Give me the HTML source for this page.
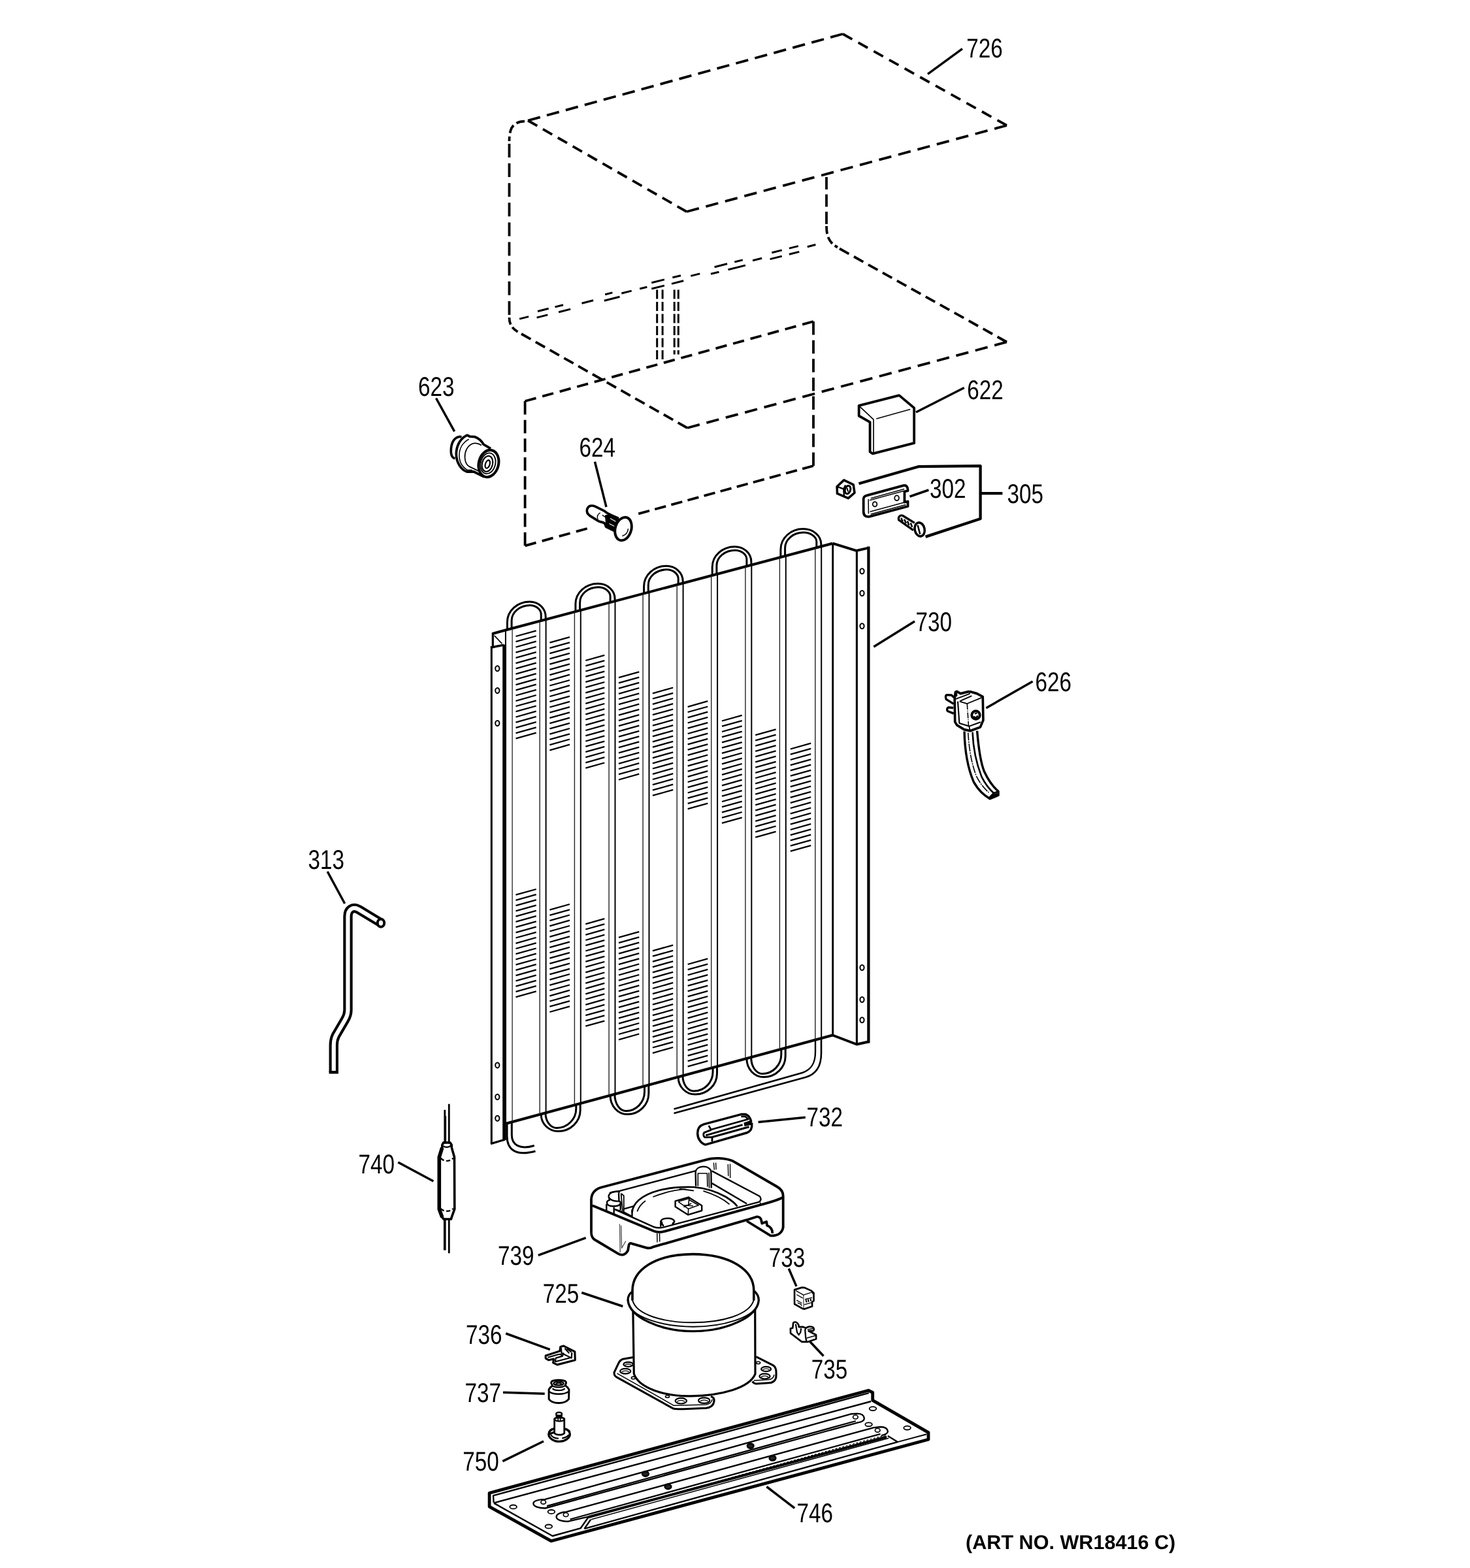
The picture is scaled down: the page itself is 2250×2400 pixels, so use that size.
<!DOCTYPE html>
<html lang="en"><head><meta charset="utf-8"><title>Parts diagram WR18416</title>
<style>
html,body{margin:0;padding:0;background:#fff;-webkit-font-smoothing:antialiased}
svg{display:block;will-change:transform}
svg *{stroke-linecap:butt;stroke-linejoin:round}
.g{stroke:#000;fill:none}
.lb{font-family:"Liberation Sans",sans-serif;fill:#000;stroke:none;text-rendering:geometricPrecision}
.bd{font-family:"Liberation Sans",sans-serif;font-weight:bold;fill:#000;stroke:none;text-rendering:geometricPrecision}
</style></head><body>
<svg xmlns="http://www.w3.org/2000/svg" width="2250" height="2400" viewBox="0 0 2250 2400">
<rect x="0" y="0" width="2250" height="2400" fill="#fff" stroke="none"/>
<g class="g">
<line x1="808.0" y1="184.5" x2="1290.0" y2="52.0" stroke-width="3.8" stroke-dasharray="19.50 10.52"/>
<line x1="1290.0" y1="52.0" x2="1541.0" y2="192.0" stroke-width="3.8" stroke-dasharray="16.50 10.59"/>
<line x1="1541.0" y1="192.0" x2="1051.0" y2="324.0" stroke-width="3.8" stroke-dasharray="19.50 11.00"/>
<line x1="808.0" y1="184.5" x2="1051.0" y2="324.0" stroke-width="3.8" stroke-dasharray="16.50 9.87"/>
<path d="M803,185.6 C792,185.6 784,191 781.5,200 C780,205 779.5,210 779.5,216" stroke-width="3.8" fill="none" stroke-dasharray="13 5.5"/>
<line x1="779.5" y1="220.0" x2="779.5" y2="482.0" stroke-width="3.8" stroke-dasharray="21.00 9.12"/>
<path d="M779.5,486 C779.5,497 784,503.5 796,510" stroke-width="3.8" fill="none" stroke-dasharray="11 5"/>
<line x1="798.0" y1="511.0" x2="1052.0" y2="655.0" stroke-width="3.8" stroke-dasharray="16.50 8.54"/>
<line x1="1052.0" y1="655.0" x2="1541.0" y2="523.5" stroke-width="3.8" stroke-dasharray="19.50 10.93"/>
<line x1="1265.0" y1="271.0" x2="1265.0" y2="343.0" stroke-width="3.8" stroke-dasharray="19.00 7.50"/>
<path d="M1265,346 C1265,363 1270,372 1282,378.5" stroke-width="3.8" fill="none" stroke-dasharray="12 5"/>
<line x1="1285.0" y1="380.5" x2="1541.0" y2="523.5" stroke-width="3.8" stroke-dasharray="16.50 8.66"/>
<line x1="795.1" y1="488.1" x2="809.1" y2="484.6" stroke-width="3.0" />
<line x1="890.5" y1="464.2" x2="908.1" y2="459.8" stroke-width="3.0" />
<line x1="951.3" y1="449.0" x2="966.7" y2="445.1" stroke-width="3.0" />
<line x1="979.2" y1="442.0" x2="990.4" y2="439.2" stroke-width="3.0" />
<line x1="1057.3" y1="422.4" x2="1071.3" y2="418.9" stroke-width="3.0" />
<line x1="1152.1" y1="398.7" x2="1166.1" y2="395.2" stroke-width="3.0" />
<line x1="1235.8" y1="377.7" x2="1248.4" y2="374.5" stroke-width="3.0" />
<line x1="823.0" y1="476.5" x2="839.7" y2="472.3" stroke-width="3.0" />
<line x1="821.6" y1="486.1" x2="838.3" y2="481.9" stroke-width="3.0" />
<line x1="849.5" y1="469.9" x2="862.0" y2="466.7" stroke-width="3.0" />
<line x1="855.1" y1="477.7" x2="873.2" y2="473.1" stroke-width="3.0" />
<line x1="926.2" y1="450.7" x2="937.4" y2="447.9" stroke-width="3.0" />
<line x1="924.8" y1="460.2" x2="948.5" y2="454.3" stroke-width="3.0" />
<line x1="997.3" y1="432.8" x2="1016.9" y2="427.9" stroke-width="3.0" />
<line x1="997.3" y1="442.0" x2="1016.9" y2="437.1" stroke-width="3.0" />
<line x1="1029.4" y1="424.8" x2="1042.0" y2="421.7" stroke-width="3.0" />
<line x1="1028.0" y1="434.4" x2="1046.2" y2="429.8" stroke-width="3.0" />
<line x1="1093.6" y1="408.7" x2="1113.1" y2="403.8" stroke-width="3.0" />
<line x1="1088.0" y1="419.3" x2="1100.5" y2="416.2" stroke-width="3.0" />
<line x1="1124.3" y1="401.0" x2="1136.8" y2="397.9" stroke-width="3.0" />
<line x1="1114.5" y1="412.7" x2="1141.0" y2="406.1" stroke-width="3.0" />
<line x1="1181.4" y1="386.7" x2="1196.8" y2="382.9" stroke-width="3.0" />
<line x1="1178.6" y1="396.6" x2="1196.8" y2="392.1" stroke-width="3.0" />
<line x1="1207.9" y1="380.1" x2="1221.9" y2="376.6" stroke-width="3.0" />
<line x1="1207.9" y1="389.3" x2="1223.3" y2="385.4" stroke-width="3.0" />
<line x1="1005.7" y1="443.5" x2="1005.7" y2="553.0" stroke-width="3.0" stroke-dasharray="14 4.5"/>
<line x1="1014.1" y1="443.5" x2="1014.1" y2="553.0" stroke-width="3.0" stroke-dasharray="14 4.5"/>
<line x1="1032.2" y1="443.5" x2="1032.2" y2="542.5" stroke-width="3.0" stroke-dasharray="14 4.5"/>
<line x1="1038.3" y1="443.5" x2="1038.3" y2="542.5" stroke-width="3.0" stroke-dasharray="14 4.5"/>
<line x1="803.6" y1="835.3" x2="803.6" y2="614.0" stroke-width="3.8" stroke-dasharray="20.50 8.19"/>
<line x1="803.6" y1="614.0" x2="1245.0" y2="492.0" stroke-width="3.8" stroke-dasharray="17.50 10.03"/>
<line x1="1245.0" y1="492.0" x2="1245.0" y2="713.0" stroke-width="3.8" stroke-dasharray="20.50 8.14"/>
<line x1="1245.0" y1="713.0" x2="977.2" y2="786.4" stroke-width="3.8" stroke-dasharray="17.50 8.52"/>
<line x1="803.6" y1="835.3" x2="898.7" y2="809.0" stroke-width="3.8" stroke-dasharray="17.50 9.56"/>
<line x1="753.8" y1="969.9" x2="1274.3" y2="831.7" stroke-width="4.1" />
<line x1="775.5" y1="1719.5" x2="1274.5" y2="1584.5" stroke-width="4.1" />
<path d="M1274.4,831.7 L1310.8,842.9 L1329.4,838.6" stroke-width="4.0" fill="none" stroke-linejoin="miter"/>
<path d="M1274.5,1584.5 L1311.2,1598.5 L1329.4,1594.5" stroke-width="4.0" fill="none" stroke-linejoin="miter"/>
<line x1="1274.7" y1="831.7" x2="1274.7" y2="1584.5" stroke-width="2.9" />
<line x1="1311.4" y1="842.0" x2="1311.4" y2="1598.0" stroke-width="3.1" />
<line x1="1329.4" y1="836.6" x2="1329.4" y2="1596.5" stroke-width="4.3" />
<ellipse cx="1319.5" cy="874.2" rx="3.1" ry="4.0" stroke-width="2.0" fill="none" />
<ellipse cx="1319.5" cy="908.0" rx="3.1" ry="4.0" stroke-width="2.0" fill="none" />
<ellipse cx="1319.5" cy="958.2" rx="3.1" ry="4.0" stroke-width="2.0" fill="none" />
<ellipse cx="1319.5" cy="1481.0" rx="3.1" ry="4.0" stroke-width="2.0" fill="none" />
<ellipse cx="1319.5" cy="1530.0" rx="3.1" ry="4.0" stroke-width="2.0" fill="none" />
<ellipse cx="1319.5" cy="1561.3" rx="3.1" ry="4.0" stroke-width="2.0" fill="none" />
<line x1="752.3" y1="989.5" x2="752.3" y2="1750.5" stroke-width="3.0" />
<line x1="772.0" y1="986.5" x2="772.0" y2="1745.0" stroke-width="5.6" />
<line x1="751.0" y1="1750.6" x2="773.0" y2="1744.2" stroke-width="3.2" />
<line x1="754.3" y1="968.3" x2="754.3" y2="991.0" stroke-width="3.2" />
<line x1="750.9" y1="991.3" x2="771.0" y2="987.1" stroke-width="3.5" />
<line x1="756.7" y1="972.9" x2="768.3" y2="985.1" stroke-width="1.7" />
<ellipse cx="761.3" cy="1023.2" rx="3.1" ry="4.0" stroke-width="2.0" fill="none" />
<ellipse cx="761.3" cy="1057.0" rx="3.1" ry="4.0" stroke-width="2.0" fill="none" />
<ellipse cx="761.3" cy="1107.0" rx="3.1" ry="4.0" stroke-width="2.0" fill="none" />
<ellipse cx="761.3" cy="1630.4" rx="3.1" ry="4.0" stroke-width="2.0" fill="none" />
<ellipse cx="761.3" cy="1679.0" rx="3.1" ry="4.0" stroke-width="2.0" fill="none" />
<ellipse cx="761.3" cy="1711.7" rx="3.1" ry="4.0" stroke-width="2.0" fill="none" />
<line x1="773.9" y1="964.6" x2="773.9" y2="1719.9" stroke-width="2.0" />
<line x1="784.1" y1="961.9" x2="784.1" y2="1717.2" stroke-width="1.3" stroke="#222"/>
<line x1="826.2" y1="950.7" x2="826.2" y2="1705.8" stroke-width="1.4" stroke="#222"/>
<line x1="835.6" y1="948.2" x2="835.6" y2="1703.2" stroke-width="2.0" />
<line x1="879.4" y1="936.6" x2="879.4" y2="1691.4" stroke-width="1.4" stroke="#222"/>
<line x1="888.8" y1="934.1" x2="888.8" y2="1688.9" stroke-width="2.0" />
<line x1="932.1" y1="922.6" x2="932.1" y2="1677.1" stroke-width="1.4" stroke="#222"/>
<line x1="941.5" y1="920.1" x2="941.5" y2="1674.6" stroke-width="2.0" />
<line x1="984.1" y1="908.8" x2="984.1" y2="1663.1" stroke-width="1.4" stroke="#222"/>
<line x1="993.5" y1="906.3" x2="993.5" y2="1660.5" stroke-width="2.0" />
<line x1="1036.2" y1="894.9" x2="1036.2" y2="1649.0" stroke-width="1.4" stroke="#222"/>
<line x1="1045.6" y1="892.4" x2="1045.6" y2="1646.4" stroke-width="2.0" />
<line x1="1088.7" y1="881.0" x2="1088.7" y2="1634.8" stroke-width="1.4" stroke="#222"/>
<line x1="1098.1" y1="878.5" x2="1098.1" y2="1632.2" stroke-width="2.0" />
<line x1="1140.9" y1="867.1" x2="1140.9" y2="1620.7" stroke-width="1.4" stroke="#222"/>
<line x1="1150.3" y1="864.6" x2="1150.3" y2="1618.1" stroke-width="2.0" />
<line x1="1193.4" y1="853.2" x2="1193.4" y2="1606.5" stroke-width="1.4" stroke="#222"/>
<line x1="1202.8" y1="850.7" x2="1202.8" y2="1603.9" stroke-width="2.0" />
<line x1="1247.8" y1="838.7" x2="1247.8" y2="1591.7" stroke-width="1.4" stroke="#222"/>
<line x1="1257.2" y1="836.2" x2="1257.2" y2="1589.2" stroke-width="2.0" />
<path d="M776.4,963.9 L776.4,952.2 C776.4,934.9 791.8,920.9 810.8,920.9 C824.3,920.9 835.2,931.2 835.2,944.0 L835.2,948.3" stroke-width="3.0" fill="none" />
<path d="M783.1,962.1 L783.1,950.0 C783.1,937.0 795.7,926.4 811.2,926.4 C820.6,926.4 828.2,932.8 828.2,940.6 L828.2,950.1" stroke-width="3.0" fill="none" />
<path d="M880.9,936.2 L880.9,924.6 C880.9,907.3 896.3,893.3 915.3,893.3 C929.5,893.3 941.1,903.6 941.1,916.4 L941.1,920.2" stroke-width="3.0" fill="none" />
<path d="M887.6,934.4 L887.6,922.4 C887.6,909.4 900.2,898.8 915.7,898.8 C925.9,898.8 934.1,905.2 934.1,913.0 L934.1,922.0" stroke-width="3.0" fill="none" />
<path d="M985.6,908.4 L985.6,897.6 C985.6,880.3 1001.0,866.3 1020.0,866.3 C1033.9,866.3 1045.2,876.6 1045.2,889.4 L1045.2,892.5" stroke-width="3.0" fill="none" />
<path d="M992.3,906.6 L992.3,895.4 C992.3,882.4 1004.9,871.8 1020.4,871.8 C1030.2,871.8 1038.2,878.2 1038.2,886.0 L1038.2,894.4" stroke-width="3.0" fill="none" />
<path d="M1090.2,880.6 L1090.2,868.0 C1090.2,850.7 1105.6,836.7 1124.6,836.7 C1138.6,836.7 1149.9,847.0 1149.9,859.8 L1149.9,864.7" stroke-width="3.0" fill="none" />
<path d="M1096.9,878.8 L1096.9,865.8 C1096.9,852.8 1109.5,842.2 1125.0,842.2 C1134.9,842.2 1142.9,848.6 1142.9,856.4 L1142.9,866.6" stroke-width="3.0" fill="none" />
<path d="M1194.9,852.8 L1194.9,840.9 C1194.9,823.6 1210.3,809.6 1229.3,809.6 C1244.5,809.6 1256.8,819.9 1256.8,832.7 L1256.8,836.4" stroke-width="3.0" fill="none" />
<path d="M1201.6,851.0 L1201.6,838.7 C1201.6,825.7 1214.2,815.1 1229.7,815.1 C1240.8,815.1 1249.8,821.5 1249.8,829.3 L1249.8,838.2" stroke-width="3.0" fill="none" />
<path d="M828.2,1705.2 L828.2,1705.7 C828.2,1720.0 839.9,1731.5 854.3,1731.5 C873.0,1731.5 888.2,1717.1 888.2,1699.3 L888.2,1689.0" stroke-width="3.0" fill="none" />
<path d="M835.0,1703.4 L835.0,1703.9 C835.0,1716.3 842.7,1726.4 852.2,1726.4 C868.5,1726.4 881.8,1713.2 881.8,1697.0 L881.8,1690.7" stroke-width="3.0" fill="none" />
<path d="M934.1,1676.6 L934.1,1677.1 C934.1,1692.8 945.8,1705.6 960.2,1705.6 C978.3,1705.6 992.9,1691.2 992.9,1673.4 L992.9,1660.7" stroke-width="3.0" fill="none" />
<path d="M940.9,1674.8 L940.9,1675.3 C940.9,1689.2 948.6,1700.5 958.1,1700.5 C973.8,1700.5 986.5,1687.3 986.5,1671.1 L986.5,1662.4" stroke-width="3.0" fill="none" />
<path d="M1038.2,1648.4 L1038.2,1648.9 C1038.2,1663.4 1049.9,1675.1 1064.3,1675.1 C1082.6,1675.1 1097.5,1660.7 1097.5,1642.9 L1097.5,1632.4" stroke-width="3.0" fill="none" />
<path d="M1045.0,1646.6 L1045.0,1647.1 C1045.0,1659.7 1052.7,1670.0 1062.2,1670.0 C1078.2,1670.0 1091.1,1656.8 1091.1,1640.6 L1091.1,1634.1" stroke-width="3.0" fill="none" />
<path d="M1142.9,1620.1 L1142.9,1620.6 C1142.9,1636.1 1154.6,1648.6 1169.0,1648.6 C1187.3,1648.6 1202.2,1634.2 1202.2,1616.4 L1202.2,1604.1" stroke-width="3.0" fill="none" />
<path d="M1149.7,1618.3 L1149.7,1618.8 C1149.7,1632.4 1157.4,1643.5 1166.9,1643.5 C1182.9,1643.5 1195.8,1630.3 1195.8,1614.1 L1195.8,1605.8" stroke-width="3.0" fill="none" />
<path d="M776,1718 L776,1739 C776,1760 790,1770 819.5,1762" stroke-width="3.0" fill="none" />
<path d="M783.3,1718 L783.3,1737 C783.3,1753 796,1760 817.8,1753.5" stroke-width="3.0" fill="none" />
<path d="M1257,1590 L1257,1612 C1257,1632 1250,1644 1233.5,1648.7 L1031.5,1704" stroke-width="2.6" fill="none" />
<path d="M1248,1592 L1248,1610 C1248,1626 1243,1637 1228,1642 L1031.5,1697.5" stroke-width="2.4" fill="none" />
<line x1="789.5" y1="974.0" x2="820.7" y2="965.3" stroke-width="2.3" />
<line x1="789.5" y1="982.2" x2="820.7" y2="973.5" stroke-width="2.3" />
<line x1="789.5" y1="990.5" x2="820.7" y2="981.7" stroke-width="2.3" />
<line x1="789.5" y1="998.7" x2="820.7" y2="990.0" stroke-width="2.3" />
<line x1="789.5" y1="1006.9" x2="820.7" y2="998.2" stroke-width="2.3" />
<line x1="789.5" y1="1015.1" x2="820.7" y2="1006.4" stroke-width="2.3" />
<line x1="789.5" y1="1023.4" x2="820.7" y2="1014.6" stroke-width="2.3" />
<line x1="789.5" y1="1031.6" x2="820.7" y2="1022.9" stroke-width="2.3" />
<line x1="789.5" y1="1039.8" x2="820.7" y2="1031.1" stroke-width="2.3" />
<line x1="789.5" y1="1048.1" x2="820.7" y2="1039.3" stroke-width="2.3" />
<line x1="789.5" y1="1056.3" x2="820.7" y2="1047.6" stroke-width="2.3" />
<line x1="789.5" y1="1064.5" x2="820.7" y2="1055.8" stroke-width="2.3" />
<line x1="789.5" y1="1072.8" x2="820.7" y2="1064.0" stroke-width="2.3" />
<line x1="789.5" y1="1081.0" x2="820.7" y2="1072.3" stroke-width="2.3" />
<line x1="789.5" y1="1089.2" x2="820.7" y2="1080.5" stroke-width="2.3" />
<line x1="789.5" y1="1097.5" x2="820.7" y2="1088.7" stroke-width="2.3" />
<line x1="789.5" y1="1105.7" x2="820.7" y2="1096.9" stroke-width="2.3" />
<line x1="789.5" y1="1113.9" x2="820.7" y2="1105.2" stroke-width="2.3" />
<line x1="789.5" y1="1122.1" x2="820.7" y2="1113.4" stroke-width="2.3" />
<line x1="789.5" y1="1130.4" x2="820.7" y2="1121.6" stroke-width="2.3" />
<line x1="841.4" y1="983.7" x2="872.0" y2="975.1" stroke-width="2.3" />
<line x1="841.4" y1="991.9" x2="872.0" y2="983.4" stroke-width="2.3" />
<line x1="841.4" y1="1000.2" x2="872.0" y2="991.6" stroke-width="2.3" />
<line x1="841.4" y1="1008.4" x2="872.0" y2="999.8" stroke-width="2.3" />
<line x1="841.4" y1="1016.6" x2="872.0" y2="1008.1" stroke-width="2.3" />
<line x1="841.4" y1="1024.9" x2="872.0" y2="1016.3" stroke-width="2.3" />
<line x1="841.4" y1="1033.1" x2="872.0" y2="1024.5" stroke-width="2.3" />
<line x1="841.4" y1="1041.3" x2="872.0" y2="1032.7" stroke-width="2.3" />
<line x1="841.4" y1="1049.5" x2="872.0" y2="1041.0" stroke-width="2.3" />
<line x1="841.4" y1="1057.8" x2="872.0" y2="1049.2" stroke-width="2.3" />
<line x1="841.4" y1="1066.0" x2="872.0" y2="1057.4" stroke-width="2.3" />
<line x1="841.4" y1="1074.2" x2="872.0" y2="1065.7" stroke-width="2.3" />
<line x1="841.4" y1="1082.5" x2="872.0" y2="1073.9" stroke-width="2.3" />
<line x1="841.4" y1="1090.7" x2="872.0" y2="1082.1" stroke-width="2.3" />
<line x1="841.4" y1="1098.9" x2="872.0" y2="1090.4" stroke-width="2.3" />
<line x1="841.4" y1="1107.2" x2="872.0" y2="1098.6" stroke-width="2.3" />
<line x1="841.4" y1="1115.4" x2="872.0" y2="1106.8" stroke-width="2.3" />
<line x1="841.4" y1="1123.6" x2="872.0" y2="1115.0" stroke-width="2.3" />
<line x1="841.4" y1="1131.8" x2="872.0" y2="1123.3" stroke-width="2.3" />
<line x1="841.4" y1="1140.1" x2="872.0" y2="1131.5" stroke-width="2.3" />
<line x1="841.4" y1="1148.3" x2="872.0" y2="1139.7" stroke-width="2.3" />
<line x1="896.3" y1="1011.0" x2="925.3" y2="1002.9" stroke-width="2.3" />
<line x1="896.3" y1="1019.2" x2="925.3" y2="1011.1" stroke-width="2.3" />
<line x1="896.3" y1="1027.5" x2="925.3" y2="1019.3" stroke-width="2.3" />
<line x1="896.3" y1="1035.7" x2="925.3" y2="1027.6" stroke-width="2.3" />
<line x1="896.3" y1="1043.9" x2="925.3" y2="1035.8" stroke-width="2.3" />
<line x1="896.3" y1="1052.2" x2="925.3" y2="1044.0" stroke-width="2.3" />
<line x1="896.3" y1="1060.4" x2="925.3" y2="1052.3" stroke-width="2.3" />
<line x1="896.3" y1="1068.6" x2="925.3" y2="1060.5" stroke-width="2.3" />
<line x1="896.3" y1="1076.8" x2="925.3" y2="1068.7" stroke-width="2.3" />
<line x1="896.3" y1="1085.1" x2="925.3" y2="1077.0" stroke-width="2.3" />
<line x1="896.3" y1="1093.3" x2="925.3" y2="1085.2" stroke-width="2.3" />
<line x1="896.3" y1="1101.5" x2="925.3" y2="1093.4" stroke-width="2.3" />
<line x1="896.3" y1="1109.8" x2="925.3" y2="1101.6" stroke-width="2.3" />
<line x1="896.3" y1="1118.0" x2="925.3" y2="1109.9" stroke-width="2.3" />
<line x1="896.3" y1="1126.2" x2="925.3" y2="1118.1" stroke-width="2.3" />
<line x1="896.3" y1="1134.5" x2="925.3" y2="1126.3" stroke-width="2.3" />
<line x1="896.3" y1="1142.7" x2="925.3" y2="1134.6" stroke-width="2.3" />
<line x1="896.3" y1="1150.9" x2="925.3" y2="1142.8" stroke-width="2.3" />
<line x1="896.3" y1="1159.1" x2="925.3" y2="1151.0" stroke-width="2.3" />
<line x1="896.3" y1="1167.4" x2="925.3" y2="1159.2" stroke-width="2.3" />
<line x1="896.3" y1="1175.6" x2="925.3" y2="1167.5" stroke-width="2.3" />
<line x1="947.0" y1="1037.1" x2="978.3" y2="1028.3" stroke-width="2.3" />
<line x1="947.0" y1="1045.3" x2="978.3" y2="1036.6" stroke-width="2.3" />
<line x1="947.0" y1="1053.6" x2="978.3" y2="1044.8" stroke-width="2.3" />
<line x1="947.0" y1="1061.8" x2="978.3" y2="1053.0" stroke-width="2.3" />
<line x1="947.0" y1="1070.0" x2="978.3" y2="1061.3" stroke-width="2.3" />
<line x1="947.0" y1="1078.2" x2="978.3" y2="1069.5" stroke-width="2.3" />
<line x1="947.0" y1="1086.5" x2="978.3" y2="1077.7" stroke-width="2.3" />
<line x1="947.0" y1="1094.7" x2="978.3" y2="1085.9" stroke-width="2.3" />
<line x1="947.0" y1="1102.9" x2="978.3" y2="1094.2" stroke-width="2.3" />
<line x1="947.0" y1="1111.2" x2="978.3" y2="1102.4" stroke-width="2.3" />
<line x1="947.0" y1="1119.4" x2="978.3" y2="1110.6" stroke-width="2.3" />
<line x1="947.0" y1="1127.6" x2="978.3" y2="1118.9" stroke-width="2.3" />
<line x1="947.0" y1="1135.9" x2="978.3" y2="1127.1" stroke-width="2.3" />
<line x1="947.0" y1="1144.1" x2="978.3" y2="1135.3" stroke-width="2.3" />
<line x1="947.0" y1="1152.3" x2="978.3" y2="1143.6" stroke-width="2.3" />
<line x1="947.0" y1="1160.5" x2="978.3" y2="1151.8" stroke-width="2.3" />
<line x1="947.0" y1="1168.8" x2="978.3" y2="1160.0" stroke-width="2.3" />
<line x1="947.0" y1="1177.0" x2="978.3" y2="1168.2" stroke-width="2.3" />
<line x1="947.0" y1="1185.2" x2="978.3" y2="1176.5" stroke-width="2.3" />
<line x1="947.0" y1="1193.5" x2="978.3" y2="1184.7" stroke-width="2.3" />
<line x1="998.9" y1="1061.3" x2="1030.2" y2="1052.5" stroke-width="2.3" />
<line x1="998.9" y1="1069.5" x2="1030.2" y2="1060.8" stroke-width="2.3" />
<line x1="998.9" y1="1077.8" x2="1030.2" y2="1069.0" stroke-width="2.3" />
<line x1="998.9" y1="1086.0" x2="1030.2" y2="1077.2" stroke-width="2.3" />
<line x1="998.9" y1="1094.2" x2="1030.2" y2="1085.5" stroke-width="2.3" />
<line x1="998.9" y1="1102.5" x2="1030.2" y2="1093.7" stroke-width="2.3" />
<line x1="998.9" y1="1110.7" x2="1030.2" y2="1101.9" stroke-width="2.3" />
<line x1="998.9" y1="1118.9" x2="1030.2" y2="1110.1" stroke-width="2.3" />
<line x1="998.9" y1="1127.1" x2="1030.2" y2="1118.4" stroke-width="2.3" />
<line x1="998.9" y1="1135.4" x2="1030.2" y2="1126.6" stroke-width="2.3" />
<line x1="998.9" y1="1143.6" x2="1030.2" y2="1134.8" stroke-width="2.3" />
<line x1="998.9" y1="1151.8" x2="1030.2" y2="1143.1" stroke-width="2.3" />
<line x1="998.9" y1="1160.1" x2="1030.2" y2="1151.3" stroke-width="2.3" />
<line x1="998.9" y1="1168.3" x2="1030.2" y2="1159.5" stroke-width="2.3" />
<line x1="998.9" y1="1176.5" x2="1030.2" y2="1167.8" stroke-width="2.3" />
<line x1="998.9" y1="1184.8" x2="1030.2" y2="1176.0" stroke-width="2.3" />
<line x1="998.9" y1="1193.0" x2="1030.2" y2="1184.2" stroke-width="2.3" />
<line x1="998.9" y1="1201.2" x2="1030.2" y2="1192.4" stroke-width="2.3" />
<line x1="998.9" y1="1209.4" x2="1030.2" y2="1200.7" stroke-width="2.3" />
<line x1="998.9" y1="1217.7" x2="1030.2" y2="1208.9" stroke-width="2.3" />
<line x1="1052.7" y1="1081.8" x2="1083.3" y2="1073.2" stroke-width="2.3" />
<line x1="1052.7" y1="1090.0" x2="1083.3" y2="1081.5" stroke-width="2.3" />
<line x1="1052.7" y1="1098.3" x2="1083.3" y2="1089.7" stroke-width="2.3" />
<line x1="1052.7" y1="1106.5" x2="1083.3" y2="1097.9" stroke-width="2.3" />
<line x1="1052.7" y1="1114.7" x2="1083.3" y2="1106.2" stroke-width="2.3" />
<line x1="1052.7" y1="1123.0" x2="1083.3" y2="1114.4" stroke-width="2.3" />
<line x1="1052.7" y1="1131.2" x2="1083.3" y2="1122.6" stroke-width="2.3" />
<line x1="1052.7" y1="1139.4" x2="1083.3" y2="1130.8" stroke-width="2.3" />
<line x1="1052.7" y1="1147.6" x2="1083.3" y2="1139.1" stroke-width="2.3" />
<line x1="1052.7" y1="1155.9" x2="1083.3" y2="1147.3" stroke-width="2.3" />
<line x1="1052.7" y1="1164.1" x2="1083.3" y2="1155.5" stroke-width="2.3" />
<line x1="1052.7" y1="1172.3" x2="1083.3" y2="1163.8" stroke-width="2.3" />
<line x1="1052.7" y1="1180.6" x2="1083.3" y2="1172.0" stroke-width="2.3" />
<line x1="1052.7" y1="1188.8" x2="1083.3" y2="1180.2" stroke-width="2.3" />
<line x1="1052.7" y1="1197.0" x2="1083.3" y2="1188.5" stroke-width="2.3" />
<line x1="1052.7" y1="1205.2" x2="1083.3" y2="1196.7" stroke-width="2.3" />
<line x1="1052.7" y1="1213.5" x2="1083.3" y2="1204.9" stroke-width="2.3" />
<line x1="1052.7" y1="1221.7" x2="1083.3" y2="1213.1" stroke-width="2.3" />
<line x1="1052.7" y1="1229.9" x2="1083.3" y2="1221.4" stroke-width="2.3" />
<line x1="1052.7" y1="1238.2" x2="1083.3" y2="1229.6" stroke-width="2.3" />
<line x1="1105.0" y1="1103.5" x2="1135.7" y2="1094.9" stroke-width="2.3" />
<line x1="1105.0" y1="1111.7" x2="1135.7" y2="1103.1" stroke-width="2.3" />
<line x1="1105.0" y1="1120.0" x2="1135.7" y2="1111.4" stroke-width="2.3" />
<line x1="1105.0" y1="1128.2" x2="1135.7" y2="1119.6" stroke-width="2.3" />
<line x1="1105.0" y1="1136.4" x2="1135.7" y2="1127.8" stroke-width="2.3" />
<line x1="1105.0" y1="1144.7" x2="1135.7" y2="1136.1" stroke-width="2.3" />
<line x1="1105.0" y1="1152.9" x2="1135.7" y2="1144.3" stroke-width="2.3" />
<line x1="1105.0" y1="1161.1" x2="1135.7" y2="1152.5" stroke-width="2.3" />
<line x1="1105.0" y1="1169.3" x2="1135.7" y2="1160.7" stroke-width="2.3" />
<line x1="1105.0" y1="1177.6" x2="1135.7" y2="1169.0" stroke-width="2.3" />
<line x1="1105.0" y1="1185.8" x2="1135.7" y2="1177.2" stroke-width="2.3" />
<line x1="1105.0" y1="1194.0" x2="1135.7" y2="1185.4" stroke-width="2.3" />
<line x1="1105.0" y1="1202.3" x2="1135.7" y2="1193.7" stroke-width="2.3" />
<line x1="1105.0" y1="1210.5" x2="1135.7" y2="1201.9" stroke-width="2.3" />
<line x1="1105.0" y1="1218.7" x2="1135.7" y2="1210.1" stroke-width="2.3" />
<line x1="1105.0" y1="1227.0" x2="1135.7" y2="1218.4" stroke-width="2.3" />
<line x1="1105.0" y1="1235.2" x2="1135.7" y2="1226.6" stroke-width="2.3" />
<line x1="1105.0" y1="1243.4" x2="1135.7" y2="1234.8" stroke-width="2.3" />
<line x1="1105.0" y1="1251.6" x2="1135.7" y2="1243.0" stroke-width="2.3" />
<line x1="1105.0" y1="1259.9" x2="1135.7" y2="1251.3" stroke-width="2.3" />
<line x1="1156.2" y1="1125.2" x2="1187.6" y2="1116.4" stroke-width="2.3" />
<line x1="1156.2" y1="1133.4" x2="1187.6" y2="1124.6" stroke-width="2.3" />
<line x1="1156.2" y1="1141.7" x2="1187.6" y2="1132.9" stroke-width="2.3" />
<line x1="1156.2" y1="1149.9" x2="1187.6" y2="1141.1" stroke-width="2.3" />
<line x1="1156.2" y1="1158.1" x2="1187.6" y2="1149.3" stroke-width="2.3" />
<line x1="1156.2" y1="1166.4" x2="1187.6" y2="1157.6" stroke-width="2.3" />
<line x1="1156.2" y1="1174.6" x2="1187.6" y2="1165.8" stroke-width="2.3" />
<line x1="1156.2" y1="1182.8" x2="1187.6" y2="1174.0" stroke-width="2.3" />
<line x1="1156.2" y1="1191.0" x2="1187.6" y2="1182.2" stroke-width="2.3" />
<line x1="1156.2" y1="1199.3" x2="1187.6" y2="1190.5" stroke-width="2.3" />
<line x1="1156.2" y1="1207.5" x2="1187.6" y2="1198.7" stroke-width="2.3" />
<line x1="1156.2" y1="1215.7" x2="1187.6" y2="1206.9" stroke-width="2.3" />
<line x1="1156.2" y1="1224.0" x2="1187.6" y2="1215.2" stroke-width="2.3" />
<line x1="1156.2" y1="1232.2" x2="1187.6" y2="1223.4" stroke-width="2.3" />
<line x1="1156.2" y1="1240.4" x2="1187.6" y2="1231.6" stroke-width="2.3" />
<line x1="1156.2" y1="1248.7" x2="1187.6" y2="1239.9" stroke-width="2.3" />
<line x1="1156.2" y1="1256.9" x2="1187.6" y2="1248.1" stroke-width="2.3" />
<line x1="1156.2" y1="1265.1" x2="1187.6" y2="1256.3" stroke-width="2.3" />
<line x1="1156.2" y1="1273.3" x2="1187.6" y2="1264.5" stroke-width="2.3" />
<line x1="1156.2" y1="1281.6" x2="1187.6" y2="1272.8" stroke-width="2.3" />
<line x1="1209.8" y1="1146.5" x2="1241.2" y2="1137.7" stroke-width="2.3" />
<line x1="1209.8" y1="1154.7" x2="1241.2" y2="1145.9" stroke-width="2.3" />
<line x1="1209.8" y1="1163.0" x2="1241.2" y2="1154.2" stroke-width="2.3" />
<line x1="1209.8" y1="1171.2" x2="1241.2" y2="1162.4" stroke-width="2.3" />
<line x1="1209.8" y1="1179.4" x2="1241.2" y2="1170.6" stroke-width="2.3" />
<line x1="1209.8" y1="1187.7" x2="1241.2" y2="1178.9" stroke-width="2.3" />
<line x1="1209.8" y1="1195.9" x2="1241.2" y2="1187.1" stroke-width="2.3" />
<line x1="1209.8" y1="1204.1" x2="1241.2" y2="1195.3" stroke-width="2.3" />
<line x1="1209.8" y1="1212.3" x2="1241.2" y2="1203.5" stroke-width="2.3" />
<line x1="1209.8" y1="1220.6" x2="1241.2" y2="1211.8" stroke-width="2.3" />
<line x1="1209.8" y1="1228.8" x2="1241.2" y2="1220.0" stroke-width="2.3" />
<line x1="1209.8" y1="1237.0" x2="1241.2" y2="1228.2" stroke-width="2.3" />
<line x1="1209.8" y1="1245.3" x2="1241.2" y2="1236.5" stroke-width="2.3" />
<line x1="1209.8" y1="1253.5" x2="1241.2" y2="1244.7" stroke-width="2.3" />
<line x1="1209.8" y1="1261.7" x2="1241.2" y2="1252.9" stroke-width="2.3" />
<line x1="1209.8" y1="1270.0" x2="1241.2" y2="1261.2" stroke-width="2.3" />
<line x1="1209.8" y1="1278.2" x2="1241.2" y2="1269.4" stroke-width="2.3" />
<line x1="1209.8" y1="1286.4" x2="1241.2" y2="1277.6" stroke-width="2.3" />
<line x1="1209.8" y1="1294.6" x2="1241.2" y2="1285.8" stroke-width="2.3" />
<line x1="1209.8" y1="1302.9" x2="1241.2" y2="1294.1" stroke-width="2.3" />
<line x1="789.5" y1="1369.7" x2="820.7" y2="1361.0" stroke-width="2.3" />
<line x1="789.5" y1="1377.9" x2="820.7" y2="1369.2" stroke-width="2.3" />
<line x1="789.5" y1="1386.2" x2="820.7" y2="1377.4" stroke-width="2.3" />
<line x1="789.5" y1="1394.4" x2="820.7" y2="1385.7" stroke-width="2.3" />
<line x1="789.5" y1="1402.6" x2="820.7" y2="1393.9" stroke-width="2.3" />
<line x1="789.5" y1="1410.9" x2="820.7" y2="1402.1" stroke-width="2.3" />
<line x1="789.5" y1="1419.1" x2="820.7" y2="1410.3" stroke-width="2.3" />
<line x1="789.5" y1="1427.3" x2="820.7" y2="1418.6" stroke-width="2.3" />
<line x1="789.5" y1="1435.5" x2="820.7" y2="1426.8" stroke-width="2.3" />
<line x1="789.5" y1="1443.8" x2="820.7" y2="1435.0" stroke-width="2.3" />
<line x1="789.5" y1="1452.0" x2="820.7" y2="1443.3" stroke-width="2.3" />
<line x1="789.5" y1="1460.2" x2="820.7" y2="1451.5" stroke-width="2.3" />
<line x1="789.5" y1="1468.5" x2="820.7" y2="1459.7" stroke-width="2.3" />
<line x1="789.5" y1="1476.7" x2="820.7" y2="1468.0" stroke-width="2.3" />
<line x1="789.5" y1="1484.9" x2="820.7" y2="1476.2" stroke-width="2.3" />
<line x1="789.5" y1="1493.2" x2="820.7" y2="1484.4" stroke-width="2.3" />
<line x1="789.5" y1="1501.4" x2="820.7" y2="1492.6" stroke-width="2.3" />
<line x1="789.5" y1="1509.6" x2="820.7" y2="1500.9" stroke-width="2.3" />
<line x1="789.5" y1="1517.8" x2="820.7" y2="1509.1" stroke-width="2.3" />
<line x1="789.5" y1="1526.1" x2="820.7" y2="1517.3" stroke-width="2.3" />
<line x1="841.4" y1="1392.6" x2="872.0" y2="1384.0" stroke-width="2.3" />
<line x1="841.4" y1="1400.8" x2="872.0" y2="1392.3" stroke-width="2.3" />
<line x1="841.4" y1="1409.1" x2="872.0" y2="1400.5" stroke-width="2.3" />
<line x1="841.4" y1="1417.3" x2="872.0" y2="1408.7" stroke-width="2.3" />
<line x1="841.4" y1="1425.5" x2="872.0" y2="1417.0" stroke-width="2.3" />
<line x1="841.4" y1="1433.8" x2="872.0" y2="1425.2" stroke-width="2.3" />
<line x1="841.4" y1="1442.0" x2="872.0" y2="1433.4" stroke-width="2.3" />
<line x1="841.4" y1="1450.2" x2="872.0" y2="1441.6" stroke-width="2.3" />
<line x1="841.4" y1="1458.4" x2="872.0" y2="1449.9" stroke-width="2.3" />
<line x1="841.4" y1="1466.7" x2="872.0" y2="1458.1" stroke-width="2.3" />
<line x1="841.4" y1="1474.9" x2="872.0" y2="1466.3" stroke-width="2.3" />
<line x1="841.4" y1="1483.1" x2="872.0" y2="1474.6" stroke-width="2.3" />
<line x1="841.4" y1="1491.4" x2="872.0" y2="1482.8" stroke-width="2.3" />
<line x1="841.4" y1="1499.6" x2="872.0" y2="1491.0" stroke-width="2.3" />
<line x1="841.4" y1="1507.8" x2="872.0" y2="1499.3" stroke-width="2.3" />
<line x1="841.4" y1="1516.0" x2="872.0" y2="1507.5" stroke-width="2.3" />
<line x1="841.4" y1="1524.3" x2="872.0" y2="1515.7" stroke-width="2.3" />
<line x1="841.4" y1="1532.5" x2="872.0" y2="1523.9" stroke-width="2.3" />
<line x1="841.4" y1="1540.7" x2="872.0" y2="1532.2" stroke-width="2.3" />
<line x1="841.4" y1="1549.0" x2="872.0" y2="1540.4" stroke-width="2.3" />
<line x1="896.3" y1="1414.3" x2="925.3" y2="1406.2" stroke-width="2.3" />
<line x1="896.3" y1="1422.5" x2="925.3" y2="1414.4" stroke-width="2.3" />
<line x1="896.3" y1="1430.8" x2="925.3" y2="1422.6" stroke-width="2.3" />
<line x1="896.3" y1="1439.0" x2="925.3" y2="1430.9" stroke-width="2.3" />
<line x1="896.3" y1="1447.2" x2="925.3" y2="1439.1" stroke-width="2.3" />
<line x1="896.3" y1="1455.5" x2="925.3" y2="1447.3" stroke-width="2.3" />
<line x1="896.3" y1="1463.7" x2="925.3" y2="1455.6" stroke-width="2.3" />
<line x1="896.3" y1="1471.9" x2="925.3" y2="1463.8" stroke-width="2.3" />
<line x1="896.3" y1="1480.1" x2="925.3" y2="1472.0" stroke-width="2.3" />
<line x1="896.3" y1="1488.4" x2="925.3" y2="1480.2" stroke-width="2.3" />
<line x1="896.3" y1="1496.6" x2="925.3" y2="1488.5" stroke-width="2.3" />
<line x1="896.3" y1="1504.8" x2="925.3" y2="1496.7" stroke-width="2.3" />
<line x1="896.3" y1="1513.1" x2="925.3" y2="1504.9" stroke-width="2.3" />
<line x1="896.3" y1="1521.3" x2="925.3" y2="1513.2" stroke-width="2.3" />
<line x1="896.3" y1="1529.5" x2="925.3" y2="1521.4" stroke-width="2.3" />
<line x1="896.3" y1="1537.8" x2="925.3" y2="1529.6" stroke-width="2.3" />
<line x1="896.3" y1="1546.0" x2="925.3" y2="1537.9" stroke-width="2.3" />
<line x1="896.3" y1="1554.2" x2="925.3" y2="1546.1" stroke-width="2.3" />
<line x1="896.3" y1="1562.4" x2="925.3" y2="1554.3" stroke-width="2.3" />
<line x1="896.3" y1="1570.7" x2="925.3" y2="1562.6" stroke-width="2.3" />
<line x1="947.0" y1="1434.9" x2="978.3" y2="1426.1" stroke-width="2.3" />
<line x1="947.0" y1="1443.1" x2="978.3" y2="1434.4" stroke-width="2.3" />
<line x1="947.0" y1="1451.4" x2="978.3" y2="1442.6" stroke-width="2.3" />
<line x1="947.0" y1="1459.6" x2="978.3" y2="1450.8" stroke-width="2.3" />
<line x1="947.0" y1="1467.8" x2="978.3" y2="1459.1" stroke-width="2.3" />
<line x1="947.0" y1="1476.1" x2="978.3" y2="1467.3" stroke-width="2.3" />
<line x1="947.0" y1="1484.3" x2="978.3" y2="1475.5" stroke-width="2.3" />
<line x1="947.0" y1="1492.5" x2="978.3" y2="1483.7" stroke-width="2.3" />
<line x1="947.0" y1="1500.7" x2="978.3" y2="1492.0" stroke-width="2.3" />
<line x1="947.0" y1="1509.0" x2="978.3" y2="1500.2" stroke-width="2.3" />
<line x1="947.0" y1="1517.2" x2="978.3" y2="1508.4" stroke-width="2.3" />
<line x1="947.0" y1="1525.4" x2="978.3" y2="1516.7" stroke-width="2.3" />
<line x1="947.0" y1="1533.7" x2="978.3" y2="1524.9" stroke-width="2.3" />
<line x1="947.0" y1="1541.9" x2="978.3" y2="1533.1" stroke-width="2.3" />
<line x1="947.0" y1="1550.1" x2="978.3" y2="1541.4" stroke-width="2.3" />
<line x1="947.0" y1="1558.4" x2="978.3" y2="1549.6" stroke-width="2.3" />
<line x1="947.0" y1="1566.6" x2="978.3" y2="1557.8" stroke-width="2.3" />
<line x1="947.0" y1="1574.8" x2="978.3" y2="1566.0" stroke-width="2.3" />
<line x1="947.0" y1="1583.0" x2="978.3" y2="1574.3" stroke-width="2.3" />
<line x1="947.0" y1="1591.3" x2="978.3" y2="1582.5" stroke-width="2.3" />
<line x1="998.9" y1="1455.4" x2="1030.2" y2="1446.6" stroke-width="2.3" />
<line x1="998.9" y1="1463.6" x2="1030.2" y2="1454.9" stroke-width="2.3" />
<line x1="998.9" y1="1471.9" x2="1030.2" y2="1463.1" stroke-width="2.3" />
<line x1="998.9" y1="1480.1" x2="1030.2" y2="1471.3" stroke-width="2.3" />
<line x1="998.9" y1="1488.3" x2="1030.2" y2="1479.6" stroke-width="2.3" />
<line x1="998.9" y1="1496.6" x2="1030.2" y2="1487.8" stroke-width="2.3" />
<line x1="998.9" y1="1504.8" x2="1030.2" y2="1496.0" stroke-width="2.3" />
<line x1="998.9" y1="1513.0" x2="1030.2" y2="1504.2" stroke-width="2.3" />
<line x1="998.9" y1="1521.2" x2="1030.2" y2="1512.5" stroke-width="2.3" />
<line x1="998.9" y1="1529.5" x2="1030.2" y2="1520.7" stroke-width="2.3" />
<line x1="998.9" y1="1537.7" x2="1030.2" y2="1528.9" stroke-width="2.3" />
<line x1="998.9" y1="1545.9" x2="1030.2" y2="1537.2" stroke-width="2.3" />
<line x1="998.9" y1="1554.2" x2="1030.2" y2="1545.4" stroke-width="2.3" />
<line x1="998.9" y1="1562.4" x2="1030.2" y2="1553.6" stroke-width="2.3" />
<line x1="998.9" y1="1570.6" x2="1030.2" y2="1561.9" stroke-width="2.3" />
<line x1="998.9" y1="1578.9" x2="1030.2" y2="1570.1" stroke-width="2.3" />
<line x1="998.9" y1="1587.1" x2="1030.2" y2="1578.3" stroke-width="2.3" />
<line x1="998.9" y1="1595.3" x2="1030.2" y2="1586.5" stroke-width="2.3" />
<line x1="998.9" y1="1603.5" x2="1030.2" y2="1594.8" stroke-width="2.3" />
<line x1="998.9" y1="1611.8" x2="1030.2" y2="1603.0" stroke-width="2.3" />
<line x1="1052.7" y1="1476.0" x2="1083.3" y2="1467.4" stroke-width="2.3" />
<line x1="1052.7" y1="1484.2" x2="1083.3" y2="1475.7" stroke-width="2.3" />
<line x1="1052.7" y1="1492.5" x2="1083.3" y2="1483.9" stroke-width="2.3" />
<line x1="1052.7" y1="1500.7" x2="1083.3" y2="1492.1" stroke-width="2.3" />
<line x1="1052.7" y1="1508.9" x2="1083.3" y2="1500.4" stroke-width="2.3" />
<line x1="1052.7" y1="1517.2" x2="1083.3" y2="1508.6" stroke-width="2.3" />
<line x1="1052.7" y1="1525.4" x2="1083.3" y2="1516.8" stroke-width="2.3" />
<line x1="1052.7" y1="1533.6" x2="1083.3" y2="1525.0" stroke-width="2.3" />
<line x1="1052.7" y1="1541.8" x2="1083.3" y2="1533.3" stroke-width="2.3" />
<line x1="1052.7" y1="1550.1" x2="1083.3" y2="1541.5" stroke-width="2.3" />
<line x1="1052.7" y1="1558.3" x2="1083.3" y2="1549.7" stroke-width="2.3" />
<line x1="1052.7" y1="1566.5" x2="1083.3" y2="1558.0" stroke-width="2.3" />
<line x1="1052.7" y1="1574.8" x2="1083.3" y2="1566.2" stroke-width="2.3" />
<line x1="1052.7" y1="1583.0" x2="1083.3" y2="1574.4" stroke-width="2.3" />
<line x1="1052.7" y1="1591.2" x2="1083.3" y2="1582.7" stroke-width="2.3" />
<line x1="1052.7" y1="1599.5" x2="1083.3" y2="1590.9" stroke-width="2.3" />
<line x1="1052.7" y1="1607.7" x2="1083.3" y2="1599.1" stroke-width="2.3" />
<line x1="1052.7" y1="1615.9" x2="1083.3" y2="1607.3" stroke-width="2.3" />
<line x1="1052.7" y1="1624.1" x2="1083.3" y2="1615.6" stroke-width="2.3" />
<line x1="1052.7" y1="1632.4" x2="1083.3" y2="1623.8" stroke-width="2.3" />
<path d="M 905.0,1887.7 L 905.0,1835.7 C 905.5,1826.6 911.0,1820.2 920.1,1817.5 L 1082.9,1774.6 C 1091.1,1771.9 1109.3,1771.9 1122.1,1777.3 L 1189.6,1816.5 C 1196.0,1820.2 1199.1,1824.8 1198.7,1832.0 L 1198.7,1878.6 C 1196.9,1887.7 1189.6,1891.8 1179.5,1891.3 L 1143.1,1869.0" stroke-width="3.8" />
<path d="M 905.0,1887.7 C 905.5,1894.1 908.2,1896.8 913.7,1899.5 L 946.5,1919.1 C 952.0,1922.3 957.5,1920.5 961.1,1914.1 L 962.5,1905.9 C 963.0,1903.2 964.8,1902.3 967.5,1903.6 L 988.5,1909.6 C 993.1,1910.9 996.7,1910.5 999.4,1908.7 L 1143.1,1867.2 L 1158.6,1862.3 C 1162.2,1862.1 1164.9,1864.9 1165.4,1868.5 L 1166.3,1872.6 L 1173.2,1869.9 L 1174.1,1875.8 C 1179.5,1877.7 1182.3,1881.3 1182.3,1887.7" stroke-width="3.8" />
<path d="M 906.9,1845.3 L 1001.3,1884.5 C 1006.7,1886.3 1012.2,1886.3 1016.8,1884.8 L 1164.9,1843.9 C 1176.8,1840.7 1189.6,1837.5 1197.8,1833.0" stroke-width="3.8" />
<path d="M 941.1,1851.2 L 1000.4,1877.8 C 1004.9,1879.5 1011.3,1879.5 1015.9,1878.4 L 1161.3,1839.8 C 1164.9,1838.4 1165.9,1833.9 1162.2,1830.7 L 1089.7,1792.4" stroke-width="2.4" />
<path d="M 932.9,1826.1 C 937.4,1823.8 941.1,1823.8 948.4,1822.9 L 1064.6,1792.1" stroke-width="2.4" />
<path d="M 1089.7,1811.1 L 1143.1,1842.5" stroke-width="2.4" />
<path d="M 1163.6,1840.3 L 1164.0,1844.4" stroke-width="1.5" />
<path d="M 1092.4,1779.6 L 1093.4,1790.6 M 1095.6,1779.6 L 1096.1,1790.1 M 1114.3,1781.9 L 1114.8,1800.1 M 1117.5,1781.4 L 1117.7,1802.9" stroke-width="1.4" />
<path d="M 1065.1,1815.6 L 1064.6,1793.7 C 1066.4,1783.7 1083.8,1782.8 1088.3,1791.9 L 1088.8,1818.4" stroke-width="2.4" />
<path d="M 1068.3,1815.6 L 1068.3,1796.0 L 1082.4,1796.0 L 1082.9,1816.5 M 1085.1,1794.7 L 1085.6,1818.4" stroke-width="1.6" />
<path d="M 931.5,1831.1 C 932.9,1822.9 946.5,1822.9 948.4,1825.7 M 931.5,1831.1 C 932.9,1837.5 941.1,1839.3 948.4,1838.4 M 929.2,1842.1 C 928.3,1838.4 930.1,1837.5 933.8,1836.6 M 929.2,1842.1 C 931.0,1847.6 946.5,1847.6 949.7,1842.5 C 950.2,1840.3 949.3,1839.3 948.4,1838.4 M 931.5,1831.1 L 932.9,1836.6 M 947.0,1826.1 L 947.5,1838.4" stroke-width="2.4" />
<path d="M 928.3,1843.0 L 928.3,1853.9 M 939.7,1847.6 L 939.7,1859.4 M 949.7,1842.5 L 949.7,1852.1" stroke-width="2.4" />
<path d="M 950.6,1826.6 L 954.8,1830.2 L 954.8,1854.8 M 950.6,1826.6 L 952.9,1853.0" stroke-width="1.8" />
<path d="M 941.1,1851.2 L 953.8,1854.8 L 967.5,1862.1 M 955.2,1850.3 L 970.3,1846.2 M 967.5,1851.2 L 967.5,1862.1" stroke-width="2.4" />
<path d="M 967.5,1855.8 C 968.4,1842.1 981.2,1829.3 1008.6,1822.0 C 1022.2,1818.4 1037.7,1816.5 1060.0,1817.0 L 1061.9,1817.0 C 1078.3,1818.4 1096.5,1823.8 1111.1,1832.0 C 1118.4,1836.6 1124.8,1841.2 1128.5,1846.6" stroke-width="2.6999999999999997" />
<path d="M 975.3,1854.4 C 977.6,1847.6 982.1,1842.1 988.0,1838.0 M 999.4,1832.0 C 1017.7,1824.8 1035.9,1821.1 1049.6,1820.2 M 1040.0,1819.7 L 1061.9,1822.5 M 1076.5,1822.9 C 1091.1,1827.5 1105.7,1833.9 1116.6,1843.4" stroke-width="1.8" />
<path d="M 1033.6,1838.4 L 1054.2,1832.5 L 1054.6,1833.0 L 1074.2,1845.3 L 1074.2,1853.0 L 1053.2,1859.4 L 1033.6,1847.1 Z" stroke-width="2.4" />
<path d="M 1038.2,1839.3 L 1055.1,1834.3 L 1054.6,1836.2 L 1069.2,1844.8 L 1053.7,1850.3 L 1038.2,1839.3 M 1053.7,1850.3 L 1053.2,1859.4 M 1054.6,1836.2 L 1053.7,1845.7 M 1045.5,1844.8 L 1061.0,1845.7 M 1046.4,1847.6 L 1058.2,1842.1" stroke-width="1.6" />
<path d="M 1011.3,1877.7 L 1011.3,1869.4 C 1014.0,1863.1 1030.5,1863.1 1032.3,1869.4 C 1031.8,1871.3 1030.5,1872.6 1028.6,1873.1 M 1012.7,1869.4 C 1012.7,1872.2 1014.0,1874.9 1015.9,1876.7" stroke-width="2.4" />
<path d="M 948.4,1873.5 L 949.3,1916.9 M 950.6,1875.8 L 951.6,1910.5 L 957.9,1899.5" stroke-width="1.4" stroke="#555"/>
<path d="M 1005.8,1887.7 L 1006.0,1901.4 M 1009.5,1888.1 L 1009.7,1900.5" stroke-width="1.5" />
<path d="M 969.1,2077.4 L 953.2,2080.3 C 948.8,2081.8 947.4,2084.7 945.9,2088.3 L 940.1,2100.6 C 939.8,2104.2 940.9,2106.4 943.8,2107.9 L 1029.9,2155.7 C 1034.3,2157.1 1040.1,2156.7 1045.9,2156.7 L 1080.6,2155.2 C 1087.9,2154.6 1092.2,2150.6 1093.0,2144.8 C 1093.4,2140.5 1091.5,2138.3 1087.9,2137.6" stroke-width="3.1" fill="#fff"/>
<path d="M 1157.4,2076.7 L 1183.5,2089.8 C 1187.1,2091.9 1188.1,2095.5 1188.1,2101.3 L 1187.8,2108.6 C 1186.4,2114.4 1182.0,2116.6 1176.2,2116.8 L 1157.4,2118.0 C 1154.5,2117.7 1153.1,2116.6 1151.6,2114.4" stroke-width="3.1" fill="#fff"/>
<path d="M 944.5,2102.1 L 1031.4,2151.3 L 1080.6,2149.9 C 1086.4,2149.1 1089.3,2146.2 1090.1,2141.9" stroke-width="1.5" />
<path d="M 1153.8,2112.9 L 1176.2,2111.8 C 1182.0,2111.2 1184.2,2108.6 1184.9,2104.2" stroke-width="1.5" />
<ellipse cx="961.6" cy="2088.3" rx="7.2" ry="3.5" stroke-width="2.2"/>
<path d="M956.5,2089.3 Q961.6,2086.2 966.6,2089.3" stroke-width="1.3"/>
<ellipse cx="957.2" cy="2098.7" rx="8.1" ry="3.9" stroke-width="2.2"/>
<path d="M951.6,2099.7 Q957.2,2096.4 962.9,2099.7" stroke-width="1.3"/>
<ellipse cx="1172.6" cy="2095.5" rx="7.5" ry="3.6" stroke-width="2.2"/>
<path d="M1167.4,2096.5 Q1172.6,2093.4 1177.9,2096.5" stroke-width="1.3"/>
<ellipse cx="1170.5" cy="2106.6" rx="8.1" ry="3.9" stroke-width="2.2"/>
<path d="M1164.8,2107.6 Q1170.5,2104.2 1176.1,2107.6" stroke-width="1.3"/>
<ellipse cx="1042.3" cy="2144.2" rx="8.7" ry="4.3" stroke-width="2.2"/>
<path d="M1036.2,2145.2 Q1042.3,2141.6 1048.3,2145.2" stroke-width="1.3"/>
<ellipse cx="1077.7" cy="2143.6" rx="8.7" ry="4.3" stroke-width="2.2"/>
<path d="M1071.7,2144.6 Q1077.7,2141.0 1083.8,2144.6" stroke-width="1.3"/>
<ellipse cx="969.4" cy="2108.9" rx="3" ry="1.8" stroke-width="1.6"/>
<ellipse cx="1021.5" cy="2137.5" rx="3" ry="1.8" stroke-width="1.6"/>
<ellipse cx="1160.6" cy="2085.8" rx="3" ry="1.8" stroke-width="1.6"/>
<path d="M 968.8,2001.4 L 970.3,2102.8 C 977.8,2124.5 1016.9,2137.6 1057.5,2136.8 C 1103.8,2136.1 1147.3,2124.5 1156.0,2102.8 L 1155.7,2001.4" stroke-width="3.2" fill="#fff"/>
<path d="M 968.0,1976.8 C 963.3,1980.4 960.7,1984.7 961.1,1990.5 C 964.0,2015.9 1009.7,2037.6 1061.1,2037.6 C 1112.5,2037.6 1158.9,2015.9 1161.3,1990.5 C 1161.5,1984.7 1158.6,1979.7 1153.8,1975.6" stroke-width="3.3" fill="#fff"/>
<path d="M 962.7,1998.5 C 972.0,2016.6 1014.0,2030.7 1061.1,2030.7 C 1108.2,2030.7 1150.2,2016.6 1159.4,1998.5" stroke-width="1.9" />
<path d="M 968.0,1989.8 L 968.0,1975.3 C 968.0,1943.5 1002.4,1920.0 1060.4,1919.6 C 1118.3,1920.0 1153.8,1943.5 1153.8,1975.3 L 1153.8,1989.8 C 1147.3,2013.0 1103.8,2024.3 1060.4,2024.3 C 1016.9,2024.3 973.5,2013.0 968.0,1989.8 Z" stroke-width="0.1" fill="#fff" stroke="none"/>
<path d="M 968.0,1989.8 C 973.5,2013.0 1016.9,2024.3 1060.4,2024.3 C 1103.8,2024.3 1147.3,2013.0 1153.8,1989.8" stroke-width="1.9" />
<path d="M 968.0,1990.5 L 968.0,1975.3 C 968.0,1943.5 1002.4,1920.0 1060.4,1919.6 C 1118.3,1920.0 1153.8,1943.5 1153.8,1975.3 L 1153.8,1990.5" stroke-width="3.6" />
<path d="M 843.5,2358.7 L 749.1,2306.1 L 749.1,2285.2 L 1329.2,2128.2 L 1335.7,2131.5 L 1335.7,2143.3 L 1421.0,2192.6 L 1421.0,2203.3 Z" stroke-width="4.8" stroke-linejoin="miter"/>
<path d="M 755.6,2299.9 L 755.0,2289.2 L 1329.8,2132.2" stroke-width="2.4" />
<path d="M 756.1,2300.3 L 1333.2,2145.0" stroke-width="2.4" />
<path d="M 755.8,2300.6 L 845.7,2351.0 L 888.6,2339.2 L 900.9,2321.7" stroke-width="2.4" />
<path d="M 894.5,2339.9 L 904.2,2325.7" stroke-width="2.4" />
<path d="M 894.5,2339.9 L 1373.8,2207.1 L 1358.8,2197.8" stroke-width="2.3" />
<path d="M 1373.8,2207.1 L 1418.3,2195.3" stroke-width="2.0" />
<path d="M 1311.5,2177.8 C 1319.1,2176.7 1323.1,2174.1 1322.8,2170.6 C 1322.3,2166.3 1318.0,2163.6 1311.5,2163.6 L 1303.0,2164.2 L 834.4,2294.9 C 823.7,2295.4 816.4,2297.6 816.4,2301.3 C 816.4,2305.9 824.8,2308.5 834.4,2308.5 L 1311.5,2177.8" stroke-width="2.4" />
<path d="M 837.1,2305.2 L 1309.9,2175.0" stroke-width="2.3" />
<path d="M 1349.1,2197.1 C 1355.5,2195.8 1359.3,2193.7 1358.8,2190.5 C 1358.2,2186.7 1354.5,2184.2 1348.0,2184.0 L 1337.3,2185.1 L 866.6,2314.2 C 857.0,2314.7 851.6,2317.9 851.6,2321.7 C 851.8,2326.0 859.1,2328.7 869.8,2328.7 L 900.9,2321.4" stroke-width="2.4" />
<path d="M 872.5,2325.5 L 1347.5,2194.8" stroke-width="2.3" />
<path d="M 900.9,2322.0 L 1357.1,2199.3" stroke-width="4.0" />
<path d="M 907.4,2320.1 L 1357.7,2195.8" stroke-width="1.2" stroke-dasharray="3 2.5"/>
<path d="M 904.7,2325.7 L 1360.4,2201.2" stroke-width="1.5" />
<ellipse cx="831.7" cy="2299.2" rx="3.8" ry="3" stroke-width="1.7"/>
<ellipse cx="866.1" cy="2318.5" rx="3.8" ry="3" stroke-width="1.7"/>
<ellipse cx="1309.4" cy="2169.0" rx="3.8" ry="3" stroke-width="1.7"/>
<ellipse cx="1343.2" cy="2189.2" rx="3.8" ry="3" stroke-width="1.7"/>
<ellipse cx="785.6" cy="2306.4" rx="5.3" ry="2.9" stroke-width="1.8"/>
<ellipse cx="843.9" cy="2313.9" rx="5.3" ry="2.9" stroke-width="1.8"/>
<ellipse cx="839.8" cy="2336.4" rx="5.3" ry="2.9" stroke-width="1.8"/>
<ellipse cx="1336.0" cy="2156.1" rx="5.3" ry="2.9" stroke-width="1.8"/>
<ellipse cx="1329.6" cy="2180.3" rx="5.3" ry="2.9" stroke-width="1.8"/>
<ellipse cx="1388.6" cy="2185.6" rx="5.3" ry="2.9" stroke-width="1.8"/>
<ellipse cx="988" cy="2256" rx="4.8" ry="3.6" stroke-width="2.6" fill="#222"/>
<ellipse cx="1022.5" cy="2275.5" rx="4.8" ry="3.6" stroke-width="2.6" fill="#222"/>
<ellipse cx="1148.7" cy="2213.1" rx="4.8" ry="3.6" stroke-width="2.6" fill="#222"/>
<ellipse cx="1182.5" cy="2231.8" rx="4.8" ry="3.6" stroke-width="2.6" fill="#222"/>
<g transform="translate(670 650) scale(0.06438)">

<path d="M565,292 C470,262 340,340 318,560 C305,700 340,790 410,805" stroke-width="56.0"/>
<path d="M650,275 L700,250 L760,280 L880,288 C960,320 1040,380 1090,470 L1260,570" stroke-width="58.2"/>
<path d="M650,275 C520,360 440,520 440,700 C440,900 560,1080 700,1120 L850,1115 L1110,1245" stroke-width="58.2"/>
<path d="M740,345 C600,420 515,560 512,720 C510,860 570,1000 700,1075 L820,1080" stroke-width="24.6"/>
<path d="M1040,490 C960,440 880,430 820,455 C700,510 640,640 645,780 C650,900 700,970 760,1000 L975,1105" stroke-width="26.9"/>
<ellipse cx="1210" cy="925" rx="235" ry="325" transform="rotate(14 1210 925)" stroke-width="62.7"/>
<ellipse cx="1195" cy="920" rx="175" ry="250" transform="rotate(14 1195 920)" stroke-width="29.1"/>
<ellipse cx="1180" cy="930" rx="125" ry="190" transform="rotate(14 1180 930)" stroke-width="33.6"/>
<ellipse cx="1185" cy="940" rx="52" ry="100" transform="rotate(18 1185 940)" stroke-width="33.6"/>

</g>
<g transform="translate(880 760) scale(0.06438)">

<path d="M1040,520 L860,440 C800,420 760,400 700,345 L480,235 C400,200 320,215 290,300 C270,370 300,420 360,460 L560,585 C600,605 680,610 710,640 L740,720 L940,815" stroke-width="57.2"/>
<path d="M730,455 L840,440 L1030,530 L960,800 L750,710 Z" fill="#000" stroke-width="31.8"/>
<path d="M600,385 C540,420 520,480 545,540" stroke-width="21.2" stroke="#000"/>
<path d="M840,520 L970,595 M815,645 L940,705" stroke="#fff" stroke-width="17.0"/>
<path d="M650,440 L740,500" stroke="#000" stroke-width="21.2"/>
<ellipse cx="1150" cy="768" rx="190" ry="282" transform="rotate(16 1150 768)" stroke-width="61.5" fill="#fff"/>
<path d="M1265,765 C1260,850 1200,915 1125,940" stroke-width="23.3"/>

</g>
<g transform="translate(1270 590) scale(0.12075)">

<path d="M370,255 L880,125 L1070,285 L1070,730 L545,865 L510,840 L510,465 L370,385 Z" stroke-width="31.5"/>
<path d="M375,262 L555,432 L555,855" stroke-width="13.7"/>
<path d="M590,422 L1020,302" stroke-width="11.6"/>
<path d="M180,1200 L300,1258 L315,1360 L235,1430 L95,1370 L92,1282 Z" stroke-width="29.4"/>
<path d="M100,1285 L175,1312 L182,1400 M175,1312 L200,1262" stroke-width="18.9"/>
<ellipse cx="228" cy="1322" rx="34" ry="52" transform="rotate(18 228 1322)" stroke-width="25.2"/>
<path d="M220,1300 L232,1345" stroke-width="16.8"/>
<path d="M470,1395 L935,1268 C975,1262 990,1285 990,1335 L948,1345 L948,1480 L990,1470 L990,1532 L505,1662 C455,1670 430,1650 428,1600 L428,1440 C430,1410 445,1400 470,1395 Z" stroke-width="31.5"/>
<path d="M520,1430 L945,1312 M505,1455 L945,1335 M510,1600 L945,1482 M520,1632 L965,1512 M490,1440 L492,1625" stroke-width="12.6"/>
<ellipse cx="572" cy="1505" rx="27" ry="30" stroke-width="14.7"/>
<ellipse cx="850" cy="1427" rx="28" ry="32" stroke-width="14.7"/>
<path d="M1075,1742 L925,1650 C890,1640 865,1665 875,1705 L1060,1835" stroke-width="27.3"/>
<path d="M905,1680 L925,1725 M945,1695 L968,1748 M985,1718 L1005,1772 M1025,1742 L1045,1795" stroke-width="21.0"/>
<ellipse cx="1140" cy="1825" rx="62" ry="88" transform="rotate(-12 1140 1825)" stroke-width="29.4" fill="#fff"/>
<path d="M1115,1770 L1145,1885" stroke-width="21.0"/>

</g>
<g transform="translate(1430 1040) scale(0.10059)">

<path d="M310,290 L322,190 L345,182 L400,215 L520,185 L560,188 L650,215 L738,262 L745,620 L700,725 L545,782 L455,762 L345,695 L315,645 Z" stroke-width="36.4"/>
<path d="M320,300 L545,215 M390,330 L570,250 M385,335 L500,368 L720,278" stroke-width="18.2"/>
<path d="M500,368 L522,705" stroke-width="15.6" stroke-dasharray="90 16 12 16"/>
<path d="M358,335 L382,665 L530,712 L705,648" stroke-width="20.8"/>
<path d="M530,712 L545,780" stroke-width="18.2"/>
<circle cx="632" cy="542" r="62" stroke-width="39.0"/>
<path d="M600,560 C620,590 650,580 660,550 M615,520 L650,510" stroke-width="23.4"/>
<path d="M300,272 L262,238 L190,235 C170,240 170,270 182,302 L295,372" stroke-width="33.8"/>
<path d="M340,200 L330,240 L350,250" stroke-width="28.6"/>
<path d="M290,432 L215,425 C190,435 190,465 205,482 L295,518" stroke-width="33.8"/>
<path d="M458,790 C462,1000 490,1300 600,1560 C680,1700 760,1760 845,1815 L975,1762 L975,1702 C900,1640 820,1530 760,1400 C700,1250 670,1000 652,782" stroke-width="33.8"/>
<path d="M582,800 C590,1000 630,1250 720,1480 C780,1600 850,1680 905,1730" stroke-width="26.0"/>
<path d="M515,810 C525,1000 555,1250 640,1470 C700,1590 770,1670 830,1720" stroke-width="15.6" stroke-dasharray="120 14 20 14"/>
<path d="M840,1800 L905,1730 L972,1705" stroke-width="28.6"/>
<path d="M860,1790 L965,1750" stroke-width="52.0"/>

</g>
<path d="M583.5,1412.8 L549,1392 C540,1387 532.5,1392 532.5,1403 L532.5,1546 C532.5,1552 531,1556 528,1561 L514,1585 C511.5,1590 510.8,1594 510.8,1600 L510.8,1641" stroke-width="14.4" stroke-linecap="butt" stroke-linejoin="round"/>
<path d="M583.5,1412.8 L549,1392 C540,1387 532.5,1392 532.5,1403 L532.5,1546 C532.5,1552 531,1556 528,1561 L514,1585 C511.5,1590 510.8,1594 510.8,1600 L510.8,1639" stroke="#fff" stroke-width="6.2" stroke-linecap="butt"/>
<ellipse cx="583" cy="1412.8" rx="5.2" ry="6" stroke-width="4" fill="#fff"/>
<path d="M503.6,1641.5 L518,1641.5" stroke-width="4"/>
<g transform="translate(540 1660) scale(0.16094)">

<path d="M875,560 L875,240 M915,560 L915,185" stroke-width="17.5"/>
<path d="M883,560 L883,300" stroke-width="12.5"/>
<path d="M850,575 L862,552 L925,552 L940,575 L940,600 L966,690 L968,1185 L940,1262 L935,1280 L865,1280 L850,1262 L822,1185 L820,690 L850,600 Z" stroke-width="22.5"/>
<path d="M850,600 L822,690 L822,1185 L850,1262" stroke-width="35.0"/>
<path d="M860,585 C880,600 910,600 935,580" stroke-width="15.0"/>
<path d="M835,700 C870,735 920,735 955,700" stroke-width="15.0" stroke-dasharray="38 22"/>
<path d="M835,1180 C870,1212 920,1212 955,1180" stroke-width="15.0" stroke-dasharray="38 22"/>
<path d="M872,1285 L872,1575 M915,1285 L915,1605" stroke-width="17.5"/>
<path d="M880,1285 L880,1575" stroke-width="12.5"/>

</g>
<g transform="translate(1050 1690) scale(0.06438)">

<path d="M1380,470 L1548,410 C1530,330 1480,265 1420,242 L1310,242 L420,480 C330,510 275,590 275,690 C275,820 350,930 460,965 L1450,680 C1530,650 1575,570 1565,462 L1385,500" stroke-width="54.0"/>
<path d="M540,510 L595,605 L1480,358 L1410,294 L1310,294" stroke-width="42.0"/>
<path d="M600,612 L440,672 C405,700 405,760 450,790 L620,785 L1500,540" stroke-width="46.0"/>
<path d="M470,745 L1345,490" stroke-width="44.0"/>
<path d="M622,790 L620,890" stroke-width="44.0"/>

</g>
<g transform="translate(1190 1950) scale(0.06035)">

<path d="M432,400 L620,342 L680,345 L850,420 L920,480 L920,680 L880,705 L880,820 L690,888 L640,880 L432,762 Z" stroke-width="44.0"/>
<path d="M470,425 L660,532 L850,472" stroke-width="22.0"/>
<path d="M660,532 L665,880" stroke-width="16.0"/>
<path d="M485,522 L640,612 M485,665 L620,742 M510,730 L600,770 L610,810 M700,642 L880,598 M680,775 L880,722" stroke-width="22.0"/>
<path d="M720,650 L740,720 M780,640 L790,710 M840,630 L850,690 M860,440 L900,500" stroke-width="34.0"/>
<path d="M330,1382 L385,1372 L400,1240 C420,1210 470,1210 500,1240 L535,1290 L545,1345 L650,1340 L720,1372 C760,1335 840,1322 890,1345 C930,1365 935,1410 910,1440 L790,1445 L980,1545 L980,1650 L765,1722 L620,1722 L332,1502 Z" stroke-width="44.0"/>
<path d="M462,1270 L498,1480 L540,1545 L585,1480 L600,1380" stroke-width="36.0"/>
<path d="M720,1372 L700,1420 L715,1600 L735,1710" stroke-width="38.0"/>
<path d="M745,1625 L965,1562 M760,1410 L900,1385" stroke-width="26.0"/>

</g>
<g transform="translate(820 2050) scale(0.08547)">

<path d="M178,292 L430,212 L442,135 L500,118 L700,222 L705,372 L385,455 L312,420 L322,352 L232,372 L178,340 Z" stroke-width="36.8"/>
<path d="M215,325 L400,272 C440,262 470,270 480,300 L360,335 L350,400 L650,322" stroke-width="25.3"/>
<path d="M455,150 L462,245 L640,335 L648,235 M520,160 L600,250 M560,170 L640,230" stroke-width="25.3"/>
<path d="M480,300 L500,240" stroke-width="23.0"/>
<path d="M235,900 C250,870 270,850 292,838 L292,810 C270,790 270,760 300,745 C350,722 470,722 520,745 C550,760 550,790 532,808 L535,830 C560,850 580,870 596,900 L592,1070 C520,1165 300,1165 236,1070 Z" stroke-width="34.5"/>
<path d="M240,935 C300,995 520,995 588,935" stroke-width="29.9"/>
<path d="M300,880 C340,925 480,925 522,880 M295,830 C340,868 480,868 530,826" stroke-width="25.3"/>
<ellipse cx="410" cy="790" rx="88" ry="34" stroke-width="27.6"/>
<ellipse cx="412" cy="800" rx="50" ry="18" stroke-width="23.0"/>
<path d="M232,1700 C232,1640 280,1610 335,1600 M510,1600 C570,1612 612,1640 612,1700 C612,1770 520,1830 420,1830 C320,1830 232,1770 232,1700 Z" stroke-width="39.1"/>
<path d="M270,1710 C300,1760 370,1775 410,1775 M470,1772 C520,1765 570,1745 590,1710" stroke-width="25.3"/>
<path d="M335,1680 L335,1420 C360,1395 490,1395 512,1420 L512,1680 C480,1720 370,1720 335,1680 Z" stroke-width="32.2" fill="#fff"/>
<path d="M340,1440 C370,1475 480,1475 510,1440" stroke-width="25.3"/>
<path d="M375,1410 L365,1330 C380,1300 450,1300 468,1330 L462,1410 M365,1350 C390,1370 440,1370 468,1350 M368,1380 C390,1395 440,1395 465,1378" stroke-width="27.6"/>
<path d="M400,1410 L400,1450 M440,1410 L440,1450" stroke-width="20.7"/>

</g>
<line x1="1420.0" y1="113.3" x2="1473.0" y2="74.7" stroke-width="3.5" />
<line x1="667.5" y1="609.5" x2="695.6" y2="660.4" stroke-width="3.5" />
<line x1="910.5" y1="706.8" x2="928.0" y2="776.0" stroke-width="3.5" />
<line x1="1402.0" y1="631.0" x2="1475.8" y2="593.5" stroke-width="3.5" />
<line x1="1392.5" y1="760.0" x2="1421.4" y2="750.0" stroke-width="3.5" />
<line x1="1337.3" y1="990.0" x2="1400.0" y2="951.0" stroke-width="3.5" />
<line x1="1509.4" y1="1083.7" x2="1580.6" y2="1043.0" stroke-width="3.5" />
<line x1="501.2" y1="1334.0" x2="527.7" y2="1383.0" stroke-width="3.5" />
<line x1="609.3" y1="1779.0" x2="663.4" y2="1808.0" stroke-width="3.5" />
<line x1="1160.6" y1="1717.5" x2="1232.8" y2="1710.3" stroke-width="3.5" />
<line x1="823.8" y1="1921.3" x2="896.7" y2="1894.7" stroke-width="3.5" />
<line x1="890.3" y1="1978.5" x2="953.3" y2="1999.5" stroke-width="3.5" />
<line x1="1207.3" y1="1941.8" x2="1219.0" y2="1968.9" stroke-width="3.5" />
<line x1="1239.5" y1="2053.3" x2="1260.5" y2="2075.5" stroke-width="3.5" />
<line x1="774.2" y1="2041.0" x2="841.8" y2="2065.7" stroke-width="3.5" />
<line x1="770.0" y1="2131.2" x2="833.7" y2="2133.3" stroke-width="3.5" />
<line x1="769.3" y1="2236.6" x2="832.0" y2="2206.0" stroke-width="3.5" />
<line x1="1173.4" y1="2275.5" x2="1216.2" y2="2308.4" stroke-width="3.5" />
<path d="M1314.5,740.3 L1405.7,714.2 L1500.6,713.2 L1500.6,794.0 L1416.6,821.6" stroke-width="4.3" fill="none" />
<line x1="1500.6" y1="755.2" x2="1534.4" y2="755.2" stroke-width="4.3" />
<text x="0" y="0" transform="translate(1479.3 87.6) scale(0.8 1)" font-size="41.6" class="lb">726</text>
<text x="0" y="0" transform="translate(640.1 605.8) scale(0.8 1)" font-size="41.6" class="lb">623</text>
<text x="0" y="0" transform="translate(886.4 699.3) scale(0.8 1)" font-size="41.6" class="lb">624</text>
<text x="0" y="0" transform="translate(1480.2 611.0) scale(0.8 1)" font-size="41.6" class="lb">622</text>
<text x="0" y="0" transform="translate(1422.9 761.6) scale(0.8 1)" font-size="41.6" class="lb">302</text>
<text x="0" y="0" transform="translate(1541.4 770.0) scale(0.8 1)" font-size="41.6" class="lb">305</text>
<text x="0" y="0" transform="translate(1401.4 966.0) scale(0.8 1)" font-size="41.6" class="lb">730</text>
<text x="0" y="0" transform="translate(1584.4 1057.7) scale(0.8 1)" font-size="41.6" class="lb">626</text>
<text x="0" y="0" transform="translate(471.4 1329.6) scale(0.8 1)" font-size="41.6" class="lb">313</text>
<text x="0" y="0" transform="translate(548.6 1795.8) scale(0.8 1)" font-size="41.6" class="lb">740</text>
<text x="0" y="0" transform="translate(1234.4 1724.1) scale(0.8 1)" font-size="41.6" class="lb">732</text>
<text x="0" y="0" transform="translate(761.9 1936.4) scale(0.8 1)" font-size="41.6" class="lb">739</text>
<text x="0" y="0" transform="translate(830.7 1994.1) scale(0.8 1)" font-size="41.6" class="lb">725</text>
<text x="0" y="0" transform="translate(1176.8 1938.6) scale(0.8 1)" font-size="41.6" class="lb">733</text>
<text x="0" y="0" transform="translate(1241.8 2109.8) scale(0.8 1)" font-size="41.6" class="lb">735</text>
<text x="0" y="0" transform="translate(713.0 2056.9) scale(0.8 1)" font-size="41.6" class="lb">736</text>
<text x="0" y="0" transform="translate(711.4 2145.5) scale(0.8 1)" font-size="41.6" class="lb">737</text>
<text x="0" y="0" transform="translate(708.2 2250.9) scale(0.8 1)" font-size="41.6" class="lb">750</text>
<text x="0" y="0" transform="translate(1219.4 2330.2) scale(0.8 1)" font-size="41.6" class="lb">746</text>
<text x="1478" y="2371.4" font-size="30.6" class="bd">(ART NO. WR18416 C)</text>
</g>
</svg>
</body></html>
